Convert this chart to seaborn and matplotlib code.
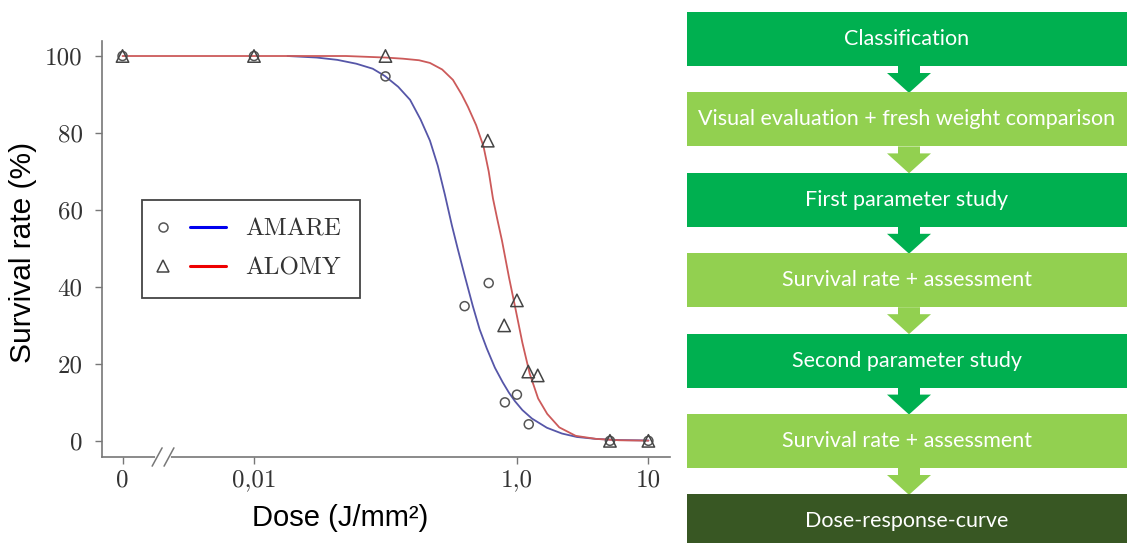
import matplotlib
matplotlib.use("Agg")
import matplotlib.pyplot as plt
import seaborn as sns
import pandas as pd
from matplotlib.patches import Rectangle, Polygon
from matplotlib.ticker import FixedLocator, NullLocator
from matplotlib.legend_handler import HandlerBase
from matplotlib.lines import Line2D

# ------------------------------------------------------------
# data
# ------------------------------------------------------------
# measured survival rates; dose 0 is drawn at the "0" tick left of the axis break
amare_dose = [0, 0.01, 0.1, 0.40, 0.61, 0.81, 1.0, 1.23, 5.1, 10]
amare_surv = [100, 100, 94.7, 35, 41, 10, 12, 4.3, 0, 0]
alomy_dose = [0, 0.01, 0.1, 0.60, 0.80, 1.0, 1.22, 1.44, 5.1, 10]
alomy_surv = [100, 100, 100, 78, 30, 36.5, 18, 17, 0, 0]

# fitted dose-response curves
amare_fit_dose = [0.018, 0.03, 0.043, 0.06, 0.08, 0.099, 0.125, 0.154, 0.185, 0.218,
                  0.25, 0.283, 0.32, 0.354, 0.40, 0.462, 0.52, 0.59, 0.68, 0.78,
                  0.87, 0.966, 1.1, 1.3, 1.69, 2.2, 2.86, 4.0, 6.0, 10.0]
amare_fit_surv = [100, 99.6, 99.0, 98.0, 96.7, 94.8, 92.0, 88.6, 83.5, 78.0,
                  71.5, 64.0, 56.0, 50.0, 43.0, 35.0, 29.0, 24.0, 19.0, 15.2,
                  12.5, 10.3, 8.0, 5.8, 3.4, 1.9, 1.0, 0.5, 0.2, 0.1]
alomy_fit_dose = [0.001, 0.01, 0.05, 0.1, 0.136, 0.18, 0.218, 0.27, 0.326, 0.38,
                  0.424, 0.49, 0.557, 0.61, 0.657, 0.71, 0.77, 0.87, 0.966, 1.1,
                  1.25, 1.45, 1.7, 2.1, 2.8, 4.0, 6.0, 10.0]
alomy_fit_surv = [100, 100, 100, 99.6, 99.3, 98.9, 98.2, 96.5, 93.8, 90.0,
                  86.8, 82.0, 76.5, 70.0, 63.0, 57.5, 52.0, 42.5, 35.0, 25.5,
                  17.5, 11.0, 7.0, 3.5, 1.3, 0.5, 0.15, 0.05]

species = ["AMARE", "ALOMY"]

xtick_pos = [0.001, 0.01, 1, 10]
xtick_labels = ["0", "0,01", "1,0", "10"]
ytick_pos = [0, 20, 40, 60, 80, 100]

# flowchart steps and their box colours
steps = ["Classification",
         "Visual evaluation + fresh weight comparison",
         "First parameter study",
         "Survival rate + assessment",
         "Second parameter study",
         "Survival rate + assessment",
         "Dose-response-curve"]
step_colors = ["#00B050", "#92D050", "#00B050", "#92D050", "#00B050", "#92D050", "#385723"]

ZERO_POS = 0.001  # where dose 0 sits on the log axis


# legend entry = small open marker on the left, short line on the right
class MarkerThenLine(HandlerBase):
    def create_artists(self, legend, orig_handle, xdescent, ydescent,
                       width, height, fontsize, trans):
        mk, ln = orig_handle
        y = height / 2 - ydescent
        m = Line2D([-xdescent + 0.04 * width], [y])
        m.update_from(mk)
        m.set_transform(trans)
        l = Line2D([-xdescent + 0.46 * width, -xdescent + width], [y, y])
        l.update_from(ln)
        l.set_transform(trans)
        return [m, l]


# ------------------------------------------------------------
# style
# ------------------------------------------------------------
sns.set_style("ticks")
plt.rcParams["axes.formatter.use_mathtext"] = True
plt.rcParams["font.family"] = ["Liberation Sans", "DejaVu Sans"]

fig = plt.figure(figsize=(11.27, 5.43), dpi=100)

# ------------------------------------------------------------
# left: dose-response chart
# ------------------------------------------------------------
ax = fig.add_axes([102 / 1127, 1 - 457 / 543, 568 / 1127, 416 / 543])
ax.set_xscale("log")

pts_amare = pd.DataFrame({"dose": amare_dose, "surv": amare_surv})
pts_alomy = pd.DataFrame({"dose": alomy_dose, "surv": alomy_surv})
pts_amare["x"] = pts_amare["dose"].replace(0, ZERO_POS)
pts_alomy["x"] = pts_alomy["dose"].replace(0, ZERO_POS)

sns.lineplot(x=amare_fit_dose, y=amare_fit_surv, ax=ax, color="#5656a8",
             lw=1.3, estimator=None, sort=False)
sns.lineplot(x=alomy_fit_dose, y=alomy_fit_surv, ax=ax, color="#cc5a5a",
             lw=1.3, estimator=None, sort=False)

sns.scatterplot(data=pts_amare, x="x", y="surv", ax=ax, marker="o", s=42,
                facecolor="none", edgecolor="#555555", linewidth=1.1, zorder=4)
sns.scatterplot(data=pts_alomy, x="x", y="surv", ax=ax, marker="^", s=80,
                facecolor="none", edgecolor="#444444", linewidth=1.1, zorder=5)

ax.set_xlim(0.000698, 14.6)
ax.set_ylim(-4.2, 103.9)

ax.xaxis.set_major_locator(FixedLocator(xtick_pos))
ax.xaxis.set_minor_locator(NullLocator())
ax.set_xticklabels(xtick_labels)
ax.set_yticks(ytick_pos)
ax.set_yticklabels([str(v) for v in ytick_pos])

for lab in ax.get_xticklabels() + ax.get_yticklabels():
    lab.set_family("cmr10")
    lab.set_fontsize(18)
    lab.set_color("#333333")

ax.tick_params(axis="both", direction="out", length=5, width=1.0, color="#777777")
ax.tick_params(axis="y", pad=9)
ax.tick_params(axis="x", pad=4)
sns.despine(ax=ax)
for sp in ["left", "bottom"]:
    ax.spines[sp].set_color("#777777")
    ax.spines[sp].set_linewidth(1.2)

ax.set_xlabel("Dose (J/mm²)", fontsize=21, color="black", va="center")
ax.xaxis.set_label_coords((340 - 102) / 568, -(518 - 457) / 416)
ax.set_ylabel("Survival rate (%)", fontsize=21.5, color="black", va="center")
ax.yaxis.set_label_coords((23 - 102) / 568, (457 - 252) / 416)

# axis break "//" between 0 and 0.01
tr = ax.get_xaxis_transform()
ax.plot([0.00182, 0.00226], [0, 0], transform=tr, color="white", lw=3,
        clip_on=False, zorder=6)
ax.plot([0.00168, 0.00200], [-0.022, 0.022], transform=tr, color="#777777", lw=1.1,
        clip_on=False, zorder=7)
ax.plot([0.00207, 0.00246], [-0.022, 0.022], transform=tr, color="#777777", lw=1.1,
        clip_on=False, zorder=7)

# legend: open marker + coloured line per species
h_amare = (Line2D([], [], ls="none", marker="o", ms=6.5, mfc="none", mec="#555555", mew=1.1),
           Line2D([], [], color="#0000ee", lw=2.2))
h_alomy = (Line2D([], [], ls="none", marker="^", ms=8.5, mfc="none", mec="#444444", mew=1.1),
           Line2D([], [], color="#ee0000", lw=2.2))
leg = ax.legend([h_amare, h_alomy], species,
                handler_map={tuple: MarkerThenLine()},
                loc="upper left", bbox_to_anchor=(142 / 1127, 1 - 200 / 543),
                bbox_transform=fig.transFigure, borderaxespad=0,
                prop={"family": "cmr10", "size": 18}, labelcolor="#333333",
                handlelength=2.6, handletextpad=0.8, labelspacing=0.65,
                borderpad=0.74, fancybox=False, framealpha=1, edgecolor="#444444")
leg.get_frame().set_linewidth(1.3)

# ------------------------------------------------------------
# right: workflow boxes
# ------------------------------------------------------------
fx = fig.add_axes([687 / 1127, 0, 440 / 1127, 1])
fx.set_xlim(0, 440)
fx.set_ylim(543, 0)
fx.axis("off")

top0, pitch, box_h = 12, 80.4, 54
cx = 222
for i, (txt, col) in enumerate(zip(steps, step_colors)):
    top = top0 + pitch * i
    fx.add_patch(Rectangle((0, top), 460, box_h, color=col, lw=0))
    fx.text(cx - 2, top + box_h / 2, txt, ha="center", va="center", color="white",
            fontsize=15.5, family=["Lato", "DejaVu Sans"])
    if i < len(steps) - 1:
        b = top + box_h
        nxt = top0 + pitch * (i + 1)
        arrow = [(cx - 11, b), (cx + 11, b), (cx + 11, b + 7), (cx + 22, b + 7),
                 (cx, nxt + 0.5), (cx - 22, b + 7), (cx - 11, b + 7)]
        fx.add_patch(Polygon(arrow, closed=True, color=col, lw=0))

fig.savefig("out.png", dpi=100)
